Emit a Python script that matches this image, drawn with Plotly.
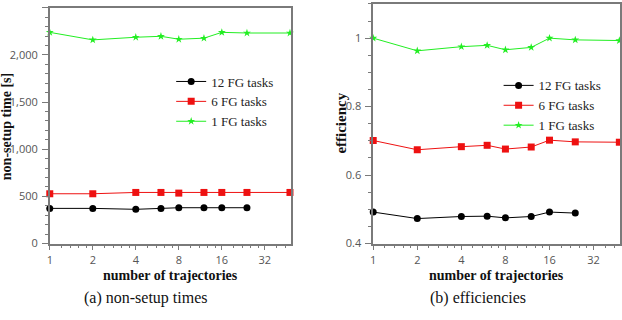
import plotly.graph_objects as go
import math

# ---------------- data ----------------
trajectories = [1, 2, 4, 6, 8, 12, 16, 24, 48]
time_12 = [373, 373, 363, 373, 380, 380, 380, 380]
time_6 = [528, 528, 542, 542, 535, 542, 542, 542, 542]
time_1 = [2240, 2160, 2188, 2198, 2167, 2178, 2240, 2233, 2233]
eff_12 = [0.492, 0.473, 0.479, 0.480, 0.475, 0.479, 0.492, 0.489]
eff_6 = [0.701, 0.674, 0.683, 0.687, 0.676, 0.682, 0.702, 0.697, 0.696]
eff_1 = [1.0, 0.963, 0.975, 0.979, 0.966, 0.973, 1.0, 0.995, 0.993]
series_names = ["12 FG tasks", "6 FG tasks", "1 FG tasks"]
x_ticks = [1, 2, 4, 8, 16, 32]
time_ticks = [0, 500, 1000, 1500, 2000, 2500]
time_tick_labels = ["0", "500", "1,000", "1,500", "2,000", "2,500"]
eff_ticks = [0.4, 0.6, 0.8, 1.0]
eff_tick_labels = ["0.4", "0.6", "0.8", "1"]
captions = ["(a) non-setup times", "(b) efficiencies"]

colors = ["#000000", "#ee1111", "#22ee22"]
symbols = ["circle", "square", "star"]
sizes = [7, 7, 6]

W, H = 622, 320
SERIF = "Liberation Serif"
SANS = "Open Sans"
AX = "#7a7a7a"

fig = go.Figure()

for i, (ys, name) in enumerate(zip([time_12, time_6, time_1], series_names)):
    fig.add_trace(go.Scatter(
        x=trajectories[:len(ys)], y=ys, name=name, mode="lines+markers",
        line=dict(color=colors[i], width=1),
        marker=dict(color=colors[i], symbol=symbols[i], size=sizes[i]),
        xaxis="x", yaxis="y", legend="legend", cliponaxis=False))

for i, (ys, name) in enumerate(zip([eff_12, eff_6, eff_1], series_names)):
    fig.add_trace(go.Scatter(
        x=trajectories[:len(ys)], y=ys, name=name, mode="lines+markers",
        line=dict(color=colors[i], width=1),
        marker=dict(color=colors[i], symbol=symbols[i], size=sizes[i]),
        xaxis="x2", yaxis="y2", legend="legend2", cliponaxis=False))

minor_x = []
for k in range(0, 6):
    for m in [1.2, 1.4, 1.6, 1.8]:
        minor_x.append((2 ** k) * m)

def xaxis(domain, anchor):
    return dict(
        domain=domain, anchor=anchor, type="log",
        range=[0, math.log10(48.5)],
        tickmode="array", tickvals=x_ticks, ticktext=[str(v) for v in x_ticks],
        ticks="outside", ticklen=5, tickwidth=1.2, tickcolor=AX,
        showline=True, linecolor=AX, linewidth=1.5, mirror=True,
        showgrid=False, zeroline=False,
        tickfont=dict(family=SANS, size=11, color="#555555"),
        minor=dict(tickmode="array", tickvals=minor_x, ticks="outside",
                   ticklen=3, tickwidth=1, tickcolor=AX, showgrid=False),
    )

def yaxis(domain, anchor, rng, tv, tt, minor_dtick):
    return dict(
        domain=domain, anchor=anchor, range=rng,
        tickmode="array", tickvals=tv, ticktext=tt,
        ticks="outside", ticklen=6, tickwidth=1.2, tickcolor=AX,
        ticklabelstandoff=2,
        showline=True, linecolor=AX, linewidth=1.5, mirror=True,
        showgrid=False, zeroline=False,
        tickfont=dict(family=SANS, size=11, color="#555555"),
        minor=dict(tickmode="linear", tick0=rng[0], dtick=minor_dtick,
                   ticks="outside", ticklen=3, tickwidth=1,
                   tickcolor=AX, showgrid=False),
    )

fig.update_layout(
    width=W, height=H,
    margin=dict(l=0, r=0, t=0, b=0),
    paper_bgcolor="white", plot_bgcolor="white",
    xaxis=xaxis([47 / W, 289 / W], "y"),
    yaxis=yaxis([(H - 249) / H, (H - 8) / H], "x", [0, 2500],
                time_ticks, time_tick_labels, 100),
    xaxis2=xaxis([372 / W, 620 / W], "y2"),
    yaxis2=yaxis([(H - 249) / H, (H - 4) / H], "x2", [0.4, 1.1],
                 eff_ticks, eff_tick_labels, 0.05),
    legend=dict(x=169 / W, y=1 - 68 / H, xanchor="left", yanchor="top",
                bgcolor="rgba(0,0,0,0)", tracegroupgap=0, itemwidth=30,
                font=dict(family=SERIF, size=13, color="#222222")),
    legend2=dict(x=498 / W, y=1 - 72 / H, xanchor="left", yanchor="top",
                 bgcolor="rgba(0,0,0,0)", tracegroupgap=0, itemwidth=30,
                 font=dict(family=SERIF, size=13, color="#222222")),
    showlegend=True,
)

ann_font_b = dict(family=SERIF, size=14, color="#111111")
annotations = [
    dict(text="<b>number of trajectories</b>", x=168 / W, y=1 - 282 / H,
         xref="paper", yref="paper", showarrow=False, font=ann_font_b,
         xanchor="center", yanchor="middle"),
    dict(text="<b>number of trajectories</b>", x=496 / W, y=1 - 282 / H,
         xref="paper", yref="paper", showarrow=False, font=ann_font_b,
         xanchor="center", yanchor="middle"),
    dict(text="<b>non-setup time [s]</b>", x=3 / W, y=1 - 129 / H,
         xref="paper", yref="paper", showarrow=False, borderpad=0,
         font=dict(family=SERIF, size=14, color="#111111"),
         textangle=-90, xanchor="center", yanchor="middle"),
    dict(text="<b>efficiency</b>", x=340 / W, y=1 - 126 / H,
         xref="paper", yref="paper", showarrow=False,
         font=dict(family=SERIF, size=15, color="#111111"),
         textangle=-90, xanchor="center", yanchor="middle"),
    dict(text=captions[0], x=144 / W, y=1 - 305 / H,
         xref="paper", yref="paper", showarrow=False,
         font=dict(family=SERIF, size=16, color="#111111"),
         xanchor="center", yanchor="middle"),
    dict(text=captions[1], x=477 / W, y=1 - 305 / H,
         xref="paper", yref="paper", showarrow=False,
         font=dict(family=SERIF, size=16, color="#111111"),
         xanchor="center", yanchor="middle"),
]
fig.update_layout(annotations=annotations)

fig.write_html("out.html")
